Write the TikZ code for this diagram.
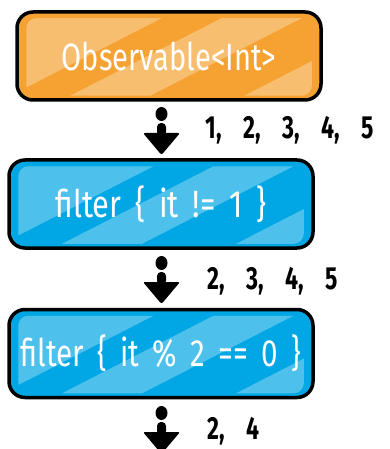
\documentclass[tikz,border=0pt]{standalone}
\usepackage{graphicx}
\usepackage{fontspec}
\setmainfont{Fira Sans}
\usetikzlibrary{calc}

\definecolor{obsorange}{RGB}{245,162,50}
\definecolor{opblue}{RGB}{0,167,228}

\newcommand{\narrow}[2][0.765]{\scalebox{#1}[1]{\spaceskip=0.45em\relax #2}}
\newcommand{\gap}{\hspace{30pt}}

% light diagonal stripes inside a box
\newcommand{\gloss}[1]{%
  \begin{scope}
    \clip[rounded corners=10pt] ($(#1.north west)+(11,8)$) rectangle ($(#1.south east)+(-11,-6)$);
    \begin{scope}[shift={($(#1.north west)+(11,8)$)}]
      \fill[white, opacity=0.3] (-50,-5) -- (145,-5) -- (-21,80) -- (-200,80) -- cycle;
      \fill[white, opacity=0.3] (205,-5) -- (285,-5) -- (119,80) -- (39,80) -- cycle;
      \fill[white, opacity=0.3] (379,-5) -- (600,-5) -- (600,80) -- (213,80) -- cycle;
    \end{scope}
  \end{scope}}

\tikzset{
  opbox/.style={draw=black, line width=3.5pt, rounded corners=16pt,
    minimum width=304pt, minimum height=88pt, text=white,
    font=\fontsize{38}{40}\selectfont},
  vals/.style={anchor=base west, font=\fontsize{32}{34}\selectfont\bfseries},
  downarrow/.pic={
    \fill (0,0) ellipse [x radius=6pt, y radius=7pt];
    \fill[rounded corners=4pt] (-4.5,22) -- (-4.5,9) -- (4.5,9) -- (4.5,22) -- cycle;
    \fill[rounded corners=2pt] (-18.5,19) -- (18.5,19) -- (0,41) -- cycle;
  }
}

\begin{document}
\begin{tikzpicture}[x=1pt, y=-1pt]
  \useasboundingbox (0,0) rectangle (390,449);

  % source
  \node[opbox, fill=obsorange] (obs) at (169,56) {\narrow{Observable<Int>}};
  \gloss{obs}
  \pic at (161.5,114) {downarrow};
  \node[vals] (vals1) at (202,139) {\narrow[0.72]{1,\gap2,\gap3,\gap4,\gap5}};

  % first filter
  \node[opbox, fill=opblue] (flt1) at (161,204) {\narrow[0.81]{filter \{ it != 1 \}}};
  \gloss{flt1}
  \pic at (161.5,263) {downarrow};
  \node[vals] (vals2) at (204,289) {\narrow[0.72]{2,\gap3,\gap4,\gap5}};

  % second filter
  \node[opbox, fill=opblue] (flt2) at (161,353.5) {\narrow[0.78]{filter \{ it \% 2 == 0 \}}};
  \gloss{flt2}
  \pic at (161.5,413) {downarrow};
  \node[vals] (vals3) at (204,439) {\narrow[0.72]{2,\gap4}};
\end{tikzpicture}
\end{document}
